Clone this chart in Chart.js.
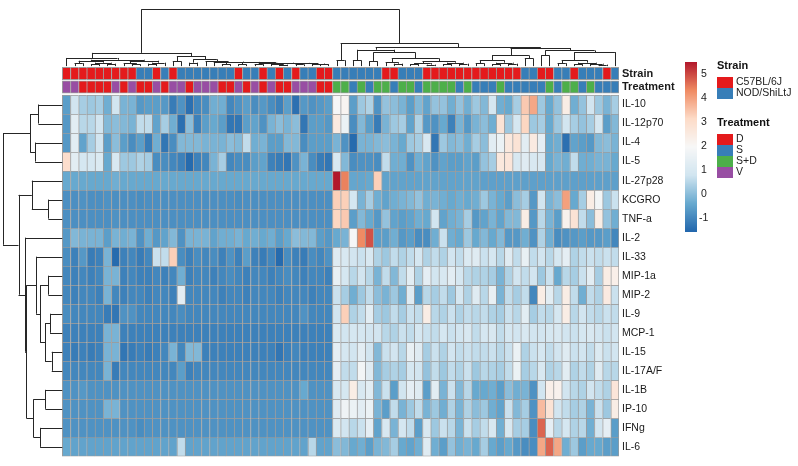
<!DOCTYPE html>
<html>
<head>
<meta charset="utf-8">
<script src="https://cdn.jsdelivr.net/npm/chart.js@4.4.1/dist/chart.umd.min.js"></script>
<style>
  html, body { margin: 0; padding: 0; background: #fff; }
</style>
</head>
<body>
<canvas id="heat" width="798" height="466"></canvas>
<script>
// ---- values ----
const cytokines = ["IL-10","IL-12p70","IL-4","IL-5","IL-27p28","KCGRO","TNF-a","IL-2","IL-33","MIP-1a","MIP-2","IL-9","MCP-1","IL-15","IL-17A/F","IL-1B","IP-10","IFNg","IL-6"];

// B = C57BL/6J, N = NOD/ShiLtJ (one letter per column)
const strain = "BBBBBBBBBNNBNBNNNNNNNBNNBNBNBNNBBNNNNNNBBNNNBBBBBBBBBBBBNNBBNNBNNNBN".split("");
// D, S, X = S+D, V
const treatment = "VVDDDDVDVDDVDVVDVVVDDVDVDVDDVVVDDXXSXSXXSXXSXXXXSXSSSXSSSSSXSXXSXSSS".split("");

const strainLevels = ["C57BL/6J", "NOD/ShiLtJ"];
const strainCodes = ["B", "N"];
const treatLevels = ["D", "S", "S+D", "V"];
const treatCodes = ["D", "S", "X", "V"];

const IL10 = [-0.6,0.8,0.3,0.2,0.3,-0.3,0.8,-0.2,-0.2,-0.7,-0.6,-0.6,-0.7,-1.2,-0.8,-1.4,-1.0,
  -0.9,-0.3,-0.3,-1.0,-0.8,-0.6,-0.9,-0.7,-0.9,-1.1,-0.6,-1.4,-0.7,-0.8,-0.7,-0.6,
  1.9,
  2.1,-0.6,0.2,0.4,-0.8,0.1,0.0,-0.2,-0.6,-0.1,-0.5,0.1,0.1,-0.3,0.1,-0.3,0.2,
  -0.1,0.9,-0.3,-0.4,0.3,3.4,3.9,0.2,-0.4,0.1,2.4,-0.3,0.1,0.8,0.2,-0.2,0.3];
const IL12p70 = [-0.7,1.3,0.5,0.5,0.8,-0.1,0.0,-0.1,-0.2,0.6,0.6,-0.5,0.3,-0.3,-1.4,0.0,-1.1,
  -0.6,-0.4,-0.6,-1.3,-1.3,-0.6,-0.5,-0.8,-0.2,0.0,-0.2,0.0,-1.3,-0.6,-0.6,-0.7,
  2.5,
  1.6,-0.9,-0.1,-0.6,-1.2,-0.2,0.2,0.3,-0.5,0.4,-0.7,-0.8,-0.4,-1.1,-0.2,-0.7,-0.2,
  0.0,-0.3,2.8,0.2,0.9,3.2,0.2,0.3,-0.4,0.2,0.8,0.3,0.1,0.3,0.9,-0.6,-0.1];
const IL4 = [-0.7,1.3,-0.5,0.3,0.8,-0.6,0.0,-0.6,-0.9,-0.6,-1.2,-0.3,-1.3,-0.9,-0.1,-0.1,-0.1,
  -0.2,-0.2,-0.2,0.0,-0.1,0.6,-0.3,-0.2,-0.6,-0.6,-0.1,-0.1,-0.9,-0.6,-0.6,-0.6,
  -0.2,
  -0.8,-1.5,-0.2,-0.2,-0.1,0.0,-0.2,-0.4,0.2,0.3,1.0,-1.3,0.2,-0.1,0.0,-0.3,0.3,
  0.0,1.3,1.6,2.6,2.8,1.3,2.5,1.4,-0.4,-0.3,-1.4,-0.5,-0.6,-0.7,-0.1,0.0,-0.2];
const IL5 = [3.0,1.3,0.9,0.9,1.1,-0.4,1.0,0.2,0.2,0.4,0.3,-0.9,-0.9,-1.0,-1.1,-1.5,-1.1,
  -1.0,-0.2,0.3,-1.0,-0.9,-0.9,-0.6,-0.5,-1.1,-1.2,-1.3,-0.8,-0.2,-0.9,-1.2,-1.3,
  1.0,
  -0.1,-0.9,-0.8,-0.8,-0.9,0.6,-0.3,-0.3,-0.8,-0.3,-0.5,-0.8,-0.5,-0.6,-0.6,-0.5,-0.6,
  0.1,0.3,2.6,2.7,1.0,1.2,1.0,1.0,-0.4,-0.2,-0.3,0.6,-0.3,-0.3,-0.2,-0.2,-0.4];
const IL27p28 = [-0.4,-0.4,-0.4,-0.4,-0.4,-0.4,-0.3,-0.4,-0.4,-0.4,-0.4,-0.4,-0.4,-0.4,-0.4,-0.4,-0.4,
  -0.4,-0.4,-0.4,-0.4,-0.4,-0.4,-0.4,-0.4,-0.4,-0.4,-0.4,-0.4,-0.4,-0.4,-0.4,-0.4,
  5.5,
  4.4,-0.45,-0.45,-0.4,3.3,-0.5,-0.5,-0.5,-0.5,-0.5,-0.5,-0.5,-0.5,-0.5,-0.5,-0.5,-0.5,
  -0.55,-0.55,-0.55,-0.55,-0.55,-0.55,-0.55,-0.55,-0.55,-0.55,-0.55,-0.55,-0.55,-0.55,-0.55,-0.55,-0.55];
const KCGRO = [-0.85,-0.85,-0.8,-0.85,-0.85,-0.8,-0.85,-0.85,-0.85,-0.9,-0.85,-0.85,-0.85,-0.85,-0.85,-0.85,-0.85,
  -0.85,-0.85,-0.85,-0.85,-0.9,-0.85,-0.85,-0.85,-0.85,-0.85,-0.85,-0.85,-0.85,-0.85,-0.85,-0.85,
  3.3,
  3.3,0.9,-0.2,0.3,-0.3,-0.5,-0.3,-0.2,-0.1,0.1,-0.3,-0.2,-0.3,-0.4,-0.3,-0.4,-0.3,
  0.2,-0.2,-0.4,-0.6,0.0,0.3,-0.7,0.8,-0.2,0.0,4.0,-0.4,0.3,2.4,1.8,0.2,0.7];
const TNFa = [-0.85,-0.85,-0.85,-0.85,-0.85,-0.85,-0.8,-0.85,-0.85,-0.85,-0.85,-0.85,-0.85,-0.85,-0.85,-0.85,-0.85,
  -0.85,-0.85,-0.85,-0.85,-0.85,-0.85,-0.85,-0.85,-0.85,-0.85,-0.85,-0.85,-0.85,-0.85,-0.85,-0.85,
  3.2,
  3.4,-0.6,-0.1,-0.4,-0.7,0.1,-0.5,-0.6,-0.5,-0.3,-0.4,0.8,-0.5,-0.3,-0.2,0.3,-0.7,
  -0.5,-0.2,-0.5,-0.1,-0.1,2.4,-0.7,0.5,-0.2,-0.6,2.2,2.8,0.6,0.0,2.4,0.1,-0.3];
const IL2 = [-0.7,-0.1,-0.2,-0.2,-0.2,-0.6,-0.2,-0.3,-0.2,-0.8,-0.3,-0.7,-0.5,-0.1,-0.8,-0.2,-0.2,
  -0.2,-0.5,-0.3,-0.3,-0.2,-0.4,-0.3,-0.4,-0.3,-0.6,-0.4,0.0,-0.1,-0.1,-0.6,-0.7,
  -0.4,
  -0.2,1.9,4.3,4.9,-0.6,-0.6,-0.3,-0.7,-0.6,-0.9,-0.9,-0.3,0.7,-0.3,-0.4,0.2,-0.4,
  -0.1,-0.4,-0.1,-0.7,-0.7,-0.3,-0.8,0.4,-0.3,-0.9,-0.8,-0.7,-0.6,-0.7,-0.7,-0.6,-1.0];
const IL33 = [-0.9,-1.1,-0.7,-1.2,-1.1,-0.2,-1.5,-1.1,-1.0,-1.2,-1.0,0.7,0.6,3.3,-0.9,-1.1,-0.9,
  -1.0,-0.9,-1.1,-0.8,-1.1,-0.6,-1.1,-1.2,-1.0,-1.5,-0.9,-1.1,-1.2,-0.9,-1.0,-0.8,
  1.2,
  1.0,0.8,0.7,1.0,0.4,0.2,0.6,0.4,0.6,0.9,0.4,0.6,0.4,0.8,0.6,1.1,1.2,
  0.7,0.9,0.5,1.2,0.6,1.5,0.6,0.8,0.5,0.9,1.4,0.4,0.6,0.7,0.6,0.7,0.6];
const MIP1a = [-1.0,-1.1,-1.0,-1.1,-1.0,-0.2,-0.2,-1.1,-1.0,-1.1,-1.1,-1.0,-1.1,-1.0,-0.3,-1.1,-1.0,
  -1.0,-1.1,-1.0,-0.9,-1.0,-1.1,-1.0,-1.0,-1.1,-1.0,-0.9,-1.0,-1.1,-1.0,-1.0,-1.1,
  1.5,
  0.9,0.5,0.8,0.5,-0.2,0.6,-0.1,0.6,1.3,0.4,1.4,0.8,1.0,1.3,0.9,0.5,0.4,
  0.4,0.3,-0.2,0.4,0.8,0.6,0.8,0.2,0.7,-0.4,0.5,0.3,0.7,1.3,0.3,2.4,2.3];
const MIP2 = [-1.0,-1.1,-1.0,-1.0,-1.1,-0.2,-1.0,-1.1,-1.0,-1.0,-1.1,-1.0,-1.0,-1.1,1.3,-1.0,-1.0,
  -1.0,-1.0,-1.1,-1.0,-1.0,-1.1,-1.0,-1.0,-1.0,-1.1,-1.0,-1.0,-1.0,-1.1,-1.0,-1.0,
  0.7,
  0.3,-0.3,0.2,0.6,0.0,-0.2,0.2,-0.3,1.2,-0.6,0.5,0.3,0.6,0.2,0.9,0.4,1.2,
  0.5,1.5,-0.2,0.6,0.3,0.6,-1.0,2.4,1.3,0.5,2.4,0.6,-0.3,0.6,0.4,2.5,0.7];
const IL9 = [-0.9,-1.0,-1.0,-1.0,-1.0,-1.2,-1.3,-0.8,-0.8,-1.0,-1.0,-1.0,-1.0,-1.0,-0.9,-1.0,-1.0,
  -1.0,-1.0,-1.0,-1.0,-1.0,-1.0,-1.0,-1.0,-1.0,-1.0,-1.0,-1.0,-0.8,-1.0,-1.0,-1.0,
  0.8,
  3.3,0.4,0.6,1.3,0.3,0.2,0.6,0.3,0.7,0.6,2.4,0.5,0.4,0.7,0.4,0.6,0.5,
  0.6,0.4,0.3,0.7,0.5,1.3,0.3,0.6,0.5,0.9,2.4,0.5,0.8,0.6,0.5,0.7,0.6];
const MCP1 = [-1.1,-1.1,-1.1,-1.1,-1.1,-0.2,-0.2,-1.1,-1.1,-1.1,-1.1,-1.1,-1.1,-1.1,-1.1,-1.1,-1.1,
  -1.1,-1.1,-1.1,-1.1,-1.1,-1.1,-1.1,-1.1,-1.1,-1.1,-1.1,-1.1,-1.1,-1.1,-1.1,-1.1,
  1.1,
  0.8,0.9,0.9,0.8,0.8,0.5,0.4,0.7,0.6,0.9,0.7,0.6,0.9,0.7,0.8,1.0,0.6,
  0.9,1.0,0.6,0.9,0.8,1.0,0.8,0.8,0.9,1.0,0.8,0.7,0.9,1.0,0.8,0.7,0.8];
const IL15 = [-1.1,-1.2,-1.1,-1.2,-1.1,-0.2,-0.2,-1.3,-1.2,-1.1,-1.2,-1.1,-1.0,-0.2,-1.0,-0.1,-0.1,
  -1.1,-1.1,-1.1,-1.1,-1.1,-1.1,-1.1,-1.1,-1.1,-1.3,-1.1,-1.0,-1.1,-1.1,-1.1,-1.1,
  1.4,
  0.9,0.8,1.3,0.8,-0.1,0.7,0.8,0.5,1.5,1.2,0.3,0.7,0.4,0.8,0.6,0.7,0.6,
  0.6,0.7,0.5,0.7,1.6,0.4,0.7,0.9,0.6,0.8,1.2,0.7,0.8,0.6,1.1,0.7,0.8];
const IL17AF = [-1.0,-1.0,-1.0,-1.0,-1.0,-0.2,-1.2,-1.0,-1.0,-1.0,-1.0,-1.0,-1.0,-1.0,-0.6,-1.1,-1.0,
  -1.0,-1.0,-1.0,-1.0,-1.0,-1.0,-1.0,-1.0,-1.0,-1.0,-1.0,-1.0,-1.0,-1.0,-1.0,-1.0,
  1.4,
  0.6,0.6,1.8,1.2,-0.1,0.3,0.4,0.3,0.9,0.8,0.1,0.6,0.2,0.6,0.4,0.7,0.2,
  0.5,0.4,0.3,0.6,1.6,0.3,0.5,1.0,0.4,0.5,1.3,0.4,0.6,0.4,1.2,0.5,0.5];
const IL1B = [-0.8,-0.8,-0.7,-0.8,-0.8,-0.8,-0.8,-0.8,-0.8,-0.8,-0.8,-0.8,-0.8,-0.8,-0.8,-0.8,-0.8,
  -0.8,-0.8,-0.8,-0.8,-0.8,-0.8,-0.8,-0.8,-0.8,-0.8,-0.8,-0.8,-0.4,-0.8,-0.8,-0.8,
  1.0,
  0.9,2.4,1.0,1.3,-0.1,0.7,-0.6,0.8,1.4,1.2,-0.6,1.3,-0.2,0.7,-0.1,0.5,-0.4,
  -0.4,-0.3,-0.6,0.0,-0.3,-0.2,-0.8,0.8,2.3,2.2,0.8,0.5,0.4,0.8,0.6,0.4,2.7];
const IP10 = [-0.8,-0.8,-0.8,-0.8,-0.8,-0.2,-0.2,-0.8,-0.8,-0.8,-0.8,-0.8,-0.8,-0.8,-0.8,-0.8,-0.8,
  -0.8,-0.8,-0.8,-0.8,-0.8,-0.8,-0.8,-0.8,-0.8,-0.8,-0.8,-0.8,-0.8,-0.8,-0.8,-0.8,
  1.2,
  1.7,1.6,1.3,1.6,-0.2,-0.6,0.6,-0.2,0.2,0.6,-0.2,0.2,-0.3,0.4,-0.2,0.4,0.0,
  0.2,-0.3,-0.5,0.7,-0.1,0.3,-0.8,3.6,2.8,0.8,0.6,0.3,0.4,-0.2,0.7,0.2,2.4];
const IFNg = [-0.8,-0.8,-0.8,-0.8,-0.8,-0.8,-0.8,-0.8,-0.8,-0.9,-0.8,-0.8,-0.8,-0.8,-0.8,-0.8,-0.8,
  -0.8,-0.8,-0.8,-0.8,-0.8,-0.8,-0.8,-0.8,-0.8,-0.8,-0.8,-0.8,-0.8,-0.8,-0.8,-0.8,
  1.1,
  0.8,0.5,0.7,1.4,-0.5,1.0,-0.2,0.9,0.6,-0.6,1.0,0.2,0.7,0.5,-0.2,0.7,0.3,
  0.6,1.0,-0.3,1.0,0.3,0.3,-0.9,4.7,1.4,0.5,0.9,0.4,0.5,-0.3,0.8,1.4,-0.6];
const IL6 = [-0.4,-0.5,-0.5,-0.5,-0.5,-0.5,-0.5,-0.5,-0.5,-0.5,-0.5,-0.5,-0.5,-0.5,0.6,-0.5,-0.5,
  -0.5,-0.5,-0.5,-0.5,-0.5,-0.5,-0.5,-0.5,-0.5,-0.5,-0.5,-0.5,-0.5,0.5,-0.5,-0.5,
  0.0,
  -0.1,-0.4,-0.3,-0.6,-0.2,-0.1,0.3,-0.4,-0.5,-0.3,1.2,-0.3,-0.6,0.1,-0.3,-0.2,-0.4,
  0.3,-0.4,-0.6,-0.4,-0.7,-0.9,-0.9,3.9,4.7,3.9,-0.3,0.2,-0.6,-0.4,-0.4,-0.6,-0.6];

// clustering trees: [left, right, height]; leaves are column / row indices
const colTree = [
  [
    [0, [[[1, 2, 3], [[3, 4, 2], [5, 6, 2.5], 3.5], 5.5], [[7, [8, 9, 2], 3], [[10, 11, 2.5], 12, 3.5], 5.5], 6.5], 8.3],
    [[13, 14, 5], [[15, 16, 3.5], [17, [18, [[19, 20, 2], [[21, 22, 1.8], [[23, 24, 2], [[25, [26, 27, 1.5], 2.5], [[28, 29, 1.8], [30, [31, 32, 2], 2.6], 3], 3.3], 3.6], 3.9], 4.3], 4.7], 5.2], 7], 10.3],
    13.5
  ],
  [
    [33, 34, 6],
    [
      [[35, 36, 6], [[37, 38, 5], [[39, [40, 41, 2.5], 4], [[[42, 43, 2], [44, 45, 1.5], 3], [[46, 47, 2], [48, 49, 2.5], 3.5], 5], 8], 14], 16.7],
      [
        [[[50, 51, 3], [[52, 53, 2], [54, 55, 2.5], 3.5], 6], [56, 57, 8], 11],
        [[58, 59, 11], [[[60, 61, 3], [[62, 63, 2], [64, [65, 66, 1.5], 2.5], 3.5], 6], 67, 14.3], 16],
        18.5
      ],
      19.3
    ],
    23.3
  ],
  58
];
const rowTree = [
  [[0, 1, 24], [2, 3, 27.3], 32.3],
  [[4, [5, 6, 14], 30.6],
   [7, [[8, [[9, 10, 14], [[11, 12, 12.3], [13, 14, 10.6], 17.3], 22.3], 26.3], [[15, 16, 17], [17, 18, 22.3], 29], 36], 37.3],
   44],
  59.6
];

const colorbarTicks = [5, 4, 3, 2, 1, 0, -1];
const SCALE_MIN = -1.58, SCALE_MAX = 5.5;

// ---- layout / style ----
const rows = [IL10, IL12p70, IL4, IL5, IL27p28, KCGRO, TNFa, IL2, IL33, MIP1a, MIP2, IL9, MCP1, IL15, IL17AF, IL1B, IP10, IFNg, IL6];
const N_ROW = rows.length, N_COL = strain.length;
const X_MIN = -7.24, Y_MIN = -4.507;
const STRAIN_SPAN = [-1.452, -0.808], TREAT_SPAN = [-0.747, -0.102];
const COL_DEN_BASE = -1.52, ROW_DEN_BASE = 0;
const FONT = '"Liberation Sans", Arial, Helvetica, sans-serif';
const GRID = '#9c9c9c';
const ramp = ['#2166AC', '#67A9CF', '#D1E5F0', '#F7F7F7', '#FDDBC7', '#EF8A62', '#B2182B'];
const strainCol = { B: '#E41A1C', N: '#377EB8' };
const treatCol = { D: '#E41A1C', S: '#377EB8', X: '#4DAF4A', V: '#984EA3' };

function hex(h) { return [1, 3, 5].map(i => parseInt(h.slice(i, i + 2), 16)); }
const rampRgb = ramp.map(hex);
function colourFor(v) {
  const t = Math.min(1, Math.max(0, (v - SCALE_MIN) / (SCALE_MAX - SCALE_MIN)));
  const p = t * (rampRgb.length - 1);
  const i = Math.min(rampRgb.length - 2, Math.floor(p)), f = p - i;
  const c = rampRgb[i].map((a, k) => Math.round(a + (rampRgb[i + 1][k] - a) * f));
  return `rgb(${c[0]},${c[1]},${c[2]})`;
}

const datasets = [];
rows.forEach((vals, r) => {
  datasets.push({
    data: vals.map((v, i) => ({ x: i + 0.5, y: [r, r + 1] })),
    backgroundColor: vals.map(colourFor),
    borderColor: GRID,
    borderWidth: c => ({ top: 1, left: 1, right: c.dataIndex === N_COL - 1 ? 1 : 0, bottom: r === N_ROW - 1 ? 1 : 0 })
  });
});
[[strain, strainCol, STRAIN_SPAN], [treatment, treatCol, TREAT_SPAN]].forEach(([codes, pal, span]) => {
  datasets.push({
    data: codes.map((c, i) => ({ x: i + 0.5, y: span })),
    backgroundColor: codes.map(c => pal[c]),
    borderColor: GRID,
    borderWidth: c => ({ top: 1, left: 1, bottom: 1, right: c.dataIndex === N_COL - 1 ? 1 : 0 })
  });
});
datasets.forEach(d => Object.assign(d, { grouped: false, barPercentage: 1, categoryPercentage: 1, borderSkipped: false }));

const tickValues = [(STRAIN_SPAN[0] + STRAIN_SPAN[1]) / 2, (TREAT_SPAN[0] + TREAT_SPAN[1]) / 2, ...cytokines.map((_, r) => r + 0.5)];
const tickText = ['Strain', 'Treatment', ...cytokines];

function place(node) {
  if (typeof node === 'number') return { pos: node + 0.5, h: 0 };
  const a = place(node[0]), b = place(node[1]);
  return { pos: (a.pos + b.pos) / 2, h: node[2], a, b };
}
function treeSegments(n, out) {
  if (!n.a) return out;
  [n.a, n.b].forEach(k => { out.push([k.pos, k.h, k.pos, n.h]); treeSegments(k, out); });
  out.push([n.a.pos, n.h, n.b.pos, n.h]);
  return out;
}

const extras = {
  id: 'extras',
  afterDraw(chart) {
    const { ctx } = chart, xs = chart.scales.x, ys = chart.scales.y;
    const snap = v => Math.round(v) + 0.5;
    ctx.save();
    ctx.strokeStyle = '#262626';
    ctx.lineWidth = 1;
    ctx.beginPath();
    // column tree on top
    const ct = place(colTree);
    treeSegments(ct, []).forEach(([p1, h1, p2, h2]) => {
      const X1 = xs.getPixelForValue(p1), X2 = xs.getPixelForValue(p2);
      const Y1 = ys.getPixelForValue(COL_DEN_BASE + (Y_MIN - COL_DEN_BASE) * h1 / ct.h);
      const Y2 = ys.getPixelForValue(COL_DEN_BASE + (Y_MIN - COL_DEN_BASE) * h2 / ct.h);
      if (p1 === p2) { ctx.moveTo(snap(X1), Y1); ctx.lineTo(snap(X1), Y2); }
      else { ctx.moveTo(X1, snap(Y1)); ctx.lineTo(X2, snap(Y1)); }
    });
    // row tree on the left
    const rt = place(rowTree);
    treeSegments(rt, []).forEach(([p1, h1, p2, h2]) => {
      const Y1 = ys.getPixelForValue(p1), Y2 = ys.getPixelForValue(p2);
      const X1 = xs.getPixelForValue(ROW_DEN_BASE + (X_MIN - ROW_DEN_BASE) * h1 / rt.h);
      const X2 = xs.getPixelForValue(ROW_DEN_BASE + (X_MIN - ROW_DEN_BASE) * h2 / rt.h);
      if (p1 === p2) { ctx.moveTo(X1, snap(Y1)); ctx.lineTo(X2, snap(Y1)); }
      else { ctx.moveTo(snap(X1), Y1); ctx.lineTo(snap(X1), Y2); }
    });
    ctx.stroke();

    // colour key
    const cbY = v => 194 - 24 * v;
    const top = cbY(SCALE_MAX), bot = cbY(SCALE_MIN);
    for (let y = Math.floor(top); y < bot; y++) {
      const v = SCALE_MAX - (y + 0.5 - top) / (bot - top) * (SCALE_MAX - SCALE_MIN);
      ctx.fillStyle = colourFor(v);
      ctx.fillRect(685, y, 12, 1);
    }
    ctx.fillStyle = '#222';
    ctx.font = `10.5px ${FONT}`;
    ctx.textBaseline = 'middle';
    ctx.textAlign = 'left';
    colorbarTicks.forEach(t => ctx.fillText(String(t), t < 0 ? 699 : 701, cbY(t)));

    // annotation legends
    const block = (title, y0, levels, codes, pal) => {
      ctx.fillStyle = '#111';
      ctx.font = `bold 11px ${FONT}`;
      ctx.fillText(title, 717, y0);
      levels.forEach((lv, i) => {
        const by = y0 + 11 + i * 11;
        ctx.fillStyle = pal[codes[i]];
        ctx.fillRect(717, by, 16, 11);
        ctx.fillStyle = '#222';
        ctx.font = `10.5px ${FONT}`;
        ctx.fillText(lv, 736, by + 5.5);
      });
    };
    block('Strain', 66, strainLevels, strainCodes, strainCol);
    block('Treatment', 123, treatLevels, treatCodes, treatCol);
    ctx.restore();
  }
};

new Chart(document.getElementById('heat'), {
  type: 'bar',
  data: { datasets },
  options: {
    responsive: false,
    animation: false,
    events: [],
    layout: { padding: { left: 3, top: 3, right: 0, bottom: 3 } },
    plugins: { legend: { display: false }, tooltip: { enabled: false } },
    scales: {
      x: { type: 'linear', min: X_MIN, max: N_COL, offset: false, display: false },
      y: {
        type: 'linear', position: 'right', reverse: true, min: Y_MIN, max: N_ROW, offset: false,
        grid: { display: false, drawTicks: false }, border: { display: false },
        afterBuildTicks: ax => { ax.ticks = tickValues.map(v => ({ value: v })); },
        afterFit: ax => { ax.width = 179; },
        ticks: {
          autoSkip: false, padding: 3, color: '#1a1a1a',
          callback: (v, i) => tickText[i],
          font: c => c.index < 2 ? { family: FONT, size: 11, weight: 'bold' } : { family: FONT, size: 10.5 }
        }
      }
    }
  },
  plugins: [extras]
});
</script>
</body>
</html>
